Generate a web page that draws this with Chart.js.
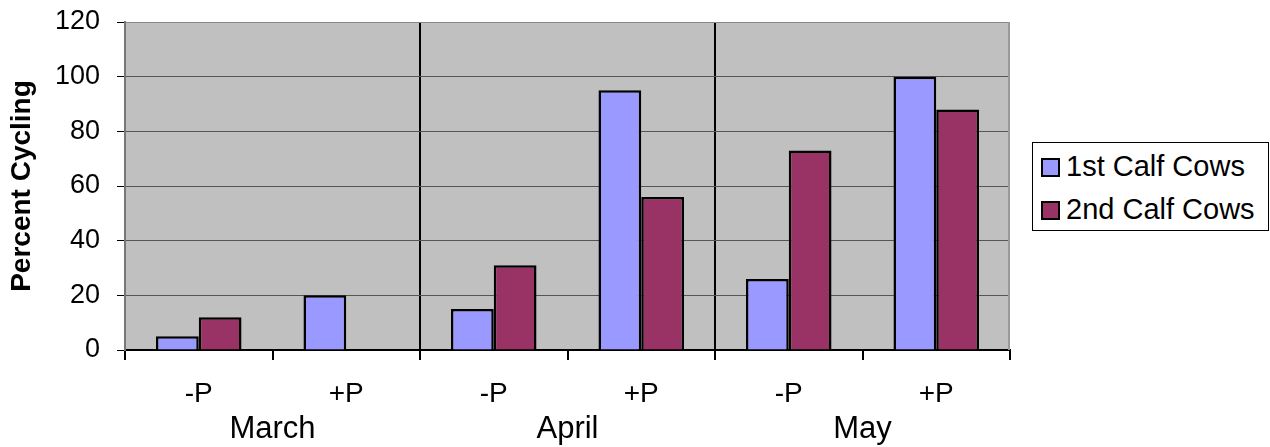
<!DOCTYPE html>
<html>
<head>
<meta charset="utf-8">
<script src="https://cdn.jsdelivr.net/npm/chart.js@4"></script>
<style>
    body { margin: 0; background: #fff; }
    #wrap { position: relative; width: 1270px; height: 447px; }
    #legend {
        position: absolute; left: 1032px; top: 142px; width: 235px; height: 87px;
        border: 1px solid #000; background: #fff;
        font-family: "Liberation Sans", Arial, sans-serif; font-size: 29px; color: #000;
    }
    .item { position: absolute; left: 8px; height: 32px; line-height: 32px; white-space: nowrap; }
    .box { display: inline-block; width: 15px; height: 15px; border: 2px solid #000; vertical-align: -1px; margin-right: 6px; }
</style>
</head>
<body>
<div id="wrap">
    <canvas id="chart"></canvas>
    <div id="legend"></div>
</div>
<script>
// data
const subLabels = ['-P', '+P', '-P', '+P', '-P', '+P'];
const monthLabels = ['March', 'April', 'May'];
const seriesNames = ['1st Calf Cows', '2nd Calf Cows'];
const firstCalf = [5, 20, 15, 95, 26, 100];
const secondCalf = [12, 0, 31, 56, 73, 88];
const seriesColors = ['#9999FF', '#993366'];
const yMin = 0;
const yMax = 120;
const yStep = 20;

const font = "'Liberation Sans', Arial, sans-serif";

// grey plot area + right edge line
const plotBackground = {
    id: 'plotBackground',
    beforeDraw(chart) {
        const { ctx, chartArea: a } = chart;
        ctx.save();
        ctx.fillStyle = '#C0C0C0';
        ctx.fillRect(a.left, a.top, a.right - a.left, a.bottom - a.top);
        ctx.restore();
    },
    afterDatasetsDraw(chart) {
        const { ctx, chartArea: a } = chart;
        ctx.save();
        ctx.strokeStyle = '#999';
        ctx.lineWidth = 2;
        ctx.beginPath();
        ctx.moveTo(a.right - 1, a.top);
        ctx.lineTo(a.right - 1, a.bottom);
        ctx.stroke();
        ctx.restore();
    }
};

const canvas = document.getElementById("chart");
new Chart(canvas, {
    type: 'bar',
    data: {
        labels: subLabels,
        datasets: [
            { label: seriesNames[0], data: firstCalf, backgroundColor: seriesColors[0], borderColor: '#000', borderWidth: 2.5 },
            { label: seriesNames[1], data: secondCalf, backgroundColor: seriesColors[1], borderColor: '#000', borderWidth: 2.5 }
        ]
    },
    options: {
        responsive: true,
        maintainAspectRatio: false,
        animation: false,
        barPercentage: 1,
        categoryPercentage: 0.58,
        layout: { padding: { left: 0, top: 22, right: 260, bottom: 0 } },
        plugins: {
            legend: { display: false },
            tooltip: { enabled: false }
        },
        scales: {
            x: {
                offset: true,
                weight: 0,
                grid: {
                    offset: true,
                    tickLength: 10,
                    tickColor: '#000',
                    color: ctx => (ctx.index === 2 || ctx.index === 4) ? '#000' : 'rgba(0,0,0,0)',
                    lineWidth: 2
                },
                border: { color: '#000', width: 2 },
                ticks: { color: '#000', padding: 17, font: { family: font, size: 28 } },
                afterFit(scale) { scale.height = 60; }
            },
            x2: {
                type: 'category',
                labels: monthLabels,
                position: 'bottom',
                offset: true,
                weight: 1,
                grid: { display: false, drawTicks: false, tickLength: 0 },
                border: { display: false },
                ticks: { color: '#000', padding: 1, font: { family: font, size: 31 } },
                afterFit(scale) { scale.height = 37; }
            },
            y: {
                min: yMin,
                max: yMax,
                ticks: { stepSize: yStep, color: '#000', padding: 17, font: { family: font, size: 27 } },
                grid: {
                    tickLength: 8,
                    tickColor: '#000',
                    color: ctx => ctx.tick && ctx.tick.value === yMax ? '#888' : '#555'
                },
                border: { color: '#777', width: 2 },
                title: {
                    display: true,
                    text: 'Percent Cycling',
                    color: '#000',
                    padding: { top: 5, bottom: 0 },
                    font: { family: font, size: 28, weight: 'bold' }
                },
                afterFit(scale) {
                    scale.width = 125;
                    scale.paddingTop = 0;
                    scale.paddingBottom = 0;
                }
            }
        }
    },
    plugins: [plotBackground]
});

// legend built from the series arrays
const legend = document.getElementById("legend");
seriesNames.forEach((name, i) => {
    const item = document.createElement("div");
    item.className = "item";
    item.style.top = (7 + i * 43) + "px";
    item.innerHTML = `<span class="box" style="background:${seriesColors[i]}"></span>${name}`;
    legend.appendChild(item);
});
</script>
</body>
</html>
